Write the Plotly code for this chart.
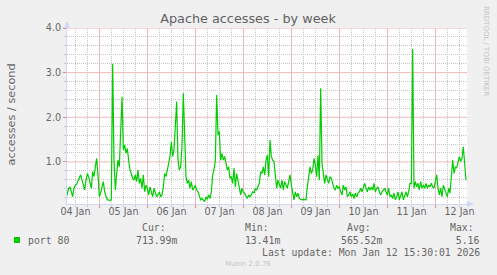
import pandas as pd
import plotly.graph_objects as go

# ---- data (accesses / second, 40-minute samples) ----
start_time = "2026-01-04 07:15"
sample_freq = "40min"
values = [
    0.18, 0.30, 0.41, 0.44, 0.33, 0.22, 0.41, 0.48, 0.50, 0.56, 0.63, 0.71, 0.59, 0.44, 0.37, 0.59,
    0.74, 0.67, 0.52, 0.41, 0.78, 0.67, 0.89, 1.08, 0.71, 0.22, 0.30, 0.44, 0.56, 0.33, 0.22, 0.15,
    0.15, 0.13, 0.16, 3.20, 1.04, 0.37, 0.74, 1.04, 0.89, 1.79, 2.46, 1.27, 1.38, 1.19, 1.30, 1.04,
    0.82, 0.74, 0.63, 0.59, 0.71, 0.56, 0.82, 0.52, 0.63, 0.41, 0.71, 0.33, 0.48, 0.41, 0.26, 0.44,
    0.33, 0.22, 0.41, 0.30, 0.22, 0.26, 0.33, 0.22, 0.26, 0.44, 0.74, 0.67, 0.82, 0.89, 1.12, 1.45,
    1.12, 1.27, 1.72, 2.35, 1.04, 0.82, 0.89, 1.34, 2.54, 1.34, 0.67, 0.52, 0.59, 0.41, 0.56, 0.37,
    0.41, 0.48, 0.37, 0.33, 0.26, 0.15, 0.18, 0.15, 0.11, 0.22, 0.16, 0.26, 0.18, 0.33, 0.71, 0.82,
    1.04, 2.50, 1.60, 1.68, 1.04, 1.19, 1.04, 1.12, 0.97, 0.82, 0.89, 0.63, 0.67, 0.52, 0.86, 0.44,
    0.74, 0.56, 0.37, 0.26, 0.41, 0.33, 0.30, 0.22, 0.18, 0.26, 0.22, 0.26, 0.33, 0.30, 0.41, 0.37,
    0.44, 0.52, 0.78, 0.74, 0.89, 0.71, 1.04,
    1.15, 0.67, 1.49, 1.12, 1.04, 1.01, 0.63, 0.41, 0.59, 0.52, 0.41, 0.59, 0.37, 0.56, 0.48, 0.41,
    0.56, 0.71, 0.48, 0.30, 0.15, 0.33, 0.22, 0.30, 0.18, 0.16, 0.15, 0.16, 0.15, 0.15, 0.44, 0.67,
    0.89, 0.74, 0.82, 1.08, 0.93, 0.67, 1.15, 0.59, 2.65, 0.97, 0.67, 0.52, 0.71, 0.63, 0.52, 0.67,
    0.63, 0.52, 0.41, 0.37, 0.48, 0.41, 0.44, 0.33, 0.26, 0.48, 0.37, 0.44, 0.22, 0.26, 0.33, 0.22,
    0.28, 0.18, 0.30, 0.22, 0.30, 0.33, 0.41, 0.33, 0.44, 0.52, 0.41, 0.33, 0.44, 0.37, 0.44, 0.37,
    0.52, 0.33, 0.41, 0.44, 0.33, 0.26, 0.33, 0.37, 0.41, 0.33, 0.26, 0.41, 0.22, 0.26, 0.18, 0.30,
    0.15, 0.22, 0.33, 0.15, 0.26, 0.33, 0.15, 0.26, 0.33, 0.22, 0.33, 0.52, 0.52, 3.53, 0.41, 0.56,
    0.44, 0.52, 0.37, 0.56, 0.41, 0.48, 0.41, 0.52, 0.41, 0.48, 0.44, 0.52, 0.44, 0.41, 0.59, 0.71,
    0.41, 0.26, 0.41, 0.22, 0.48, 0.41, 0.30, 0.22, 0.41, 0.30, 0.71, 1.04, 0.74, 0.89, 0.86, 1.04,
    1.12, 1.01, 1.08, 1.34, 1.04, 0.59,
]
series_name = "port 80"
stat_labels = ["Cur:", "Min:", "Avg:", "Max:"]
stat_values = ["713.99m", " 13.41m", "565.52m", "  5.16 "]
last_update = "Last update: Mon Jan 12 15:30:01 2026"
title_text = "Apache accesses - by week"
y_title = "accesses / second"
day_labels = ["04 Jan", "05 Jan", "06 Jan", "07 Jan", "08 Jan", "09 Jan", "10 Jan", "11 Jan", "12 Jan"]
y_major = [1.0, 2.0, 3.0, 4.0]
x_range = ["2026-01-04 07:45", "2026-01-12 15:45"]
y_range = [0.0568, 4.0]

times = pd.date_range(start_time, periods=len(values), freq=sample_freq)

# grid / label positions
midnights = list(pd.date_range("2026-01-05 00:00", periods=8, freq="D"))
noons = list(pd.date_range("2026-01-04 12:00", periods=len(day_labels), freq="D"))
minor_x = [t for t in pd.date_range("2026-01-04 00:00", "2026-01-13 00:00", freq="6h")
           if t.hour != 0]
minor_y = [round(i * 0.2, 1) for i in range(0, 21) if i % 5 != 0]

W, H = 497, 275
L, R, T, B = 67, 467, 28, 204

def px(x):
    return (x - L) / (R - L)

def py(y):
    return (B - y) / (B - T)

FONT = "DejaVu Sans"
MONO = "DejaVu Sans Mono"
TXT = "#666666"
AXIS = "#cfd6f8"
MGRID = "#efb8b8"
GRID = "#c4c4c4"
DASH = "1px,1px"

fig = go.Figure()
fig.add_trace(go.Scatter(x=times, y=values, mode="lines",
                         line=dict(color="#00cc00", width=1.2), hoverinfo="skip"))

fig.update_layout(
    width=W, height=H,
    margin=dict(l=L, r=W - R, t=T, b=H - B),
    paper_bgcolor="#f0f0f0", plot_bgcolor="#ffffff",
    showlegend=False,
    title=dict(text=title_text, x=248 / W, xanchor="center", y=1 - 19 / H, yanchor="middle",
               yref="container", font=dict(family=FONT, size=12.8, color="#606060")),
    font=dict(family=FONT, color=TXT),
)

fig.update_layout(
    xaxis=dict(
        type="date", range=x_range,
        tickmode="array", tickvals=midnights, showticklabels=False,
        showgrid=False,
        ticks="outside", ticklen=3, tickcolor="#e08888",
        showline=True, linecolor=AXIS, linewidth=1, zeroline=False,
        minor=dict(tickmode="array", tickvals=minor_x, showgrid=True, gridcolor=GRID,
                   griddash=DASH, ticks="outside", ticklen=2, tickcolor="#cccccc"),
        fixedrange=True,
    ),
    xaxis2=dict(
        type="date", range=x_range, overlaying="x", anchor="y", side="bottom",
        tickmode="array", tickvals=noons, ticktext=day_labels,
        showgrid=False, ticks="", showline=False, zeroline=False,
        tickfont=dict(family=FONT, size=9.6, color=TXT),
        fixedrange=True,
    ),
    yaxis=dict(
        range=y_range, tick0=0, dtick=1, tickformat=".1f",
        showgrid=False,
        ticks="outside", ticklen=3, tickcolor="#e08888",
        tickfont=dict(family=FONT, size=9.6, color=TXT),
        showline=True, linecolor=AXIS, linewidth=1, zeroline=False,
        minor=dict(tickmode="array", tickvals=minor_y, showgrid=True, gridcolor=GRID,
                   griddash=DASH, ticks="outside", ticklen=2, tickcolor="#cccccc"),
        fixedrange=True,
    ),
)
# invisible helper trace so the label axis is drawn
fig.add_trace(go.Scatter(x=[noons[0]], y=[None], xaxis="x2", yaxis="y", mode="lines",
                         hoverinfo="skip", showlegend=False))

shapes = []
# major grid lines (midnights / whole units), light red, above the grid but below the data
for m in midnights:
    shapes.append(dict(type="line", xref="x", yref="paper", x0=m, x1=m, y0=0, y1=1,
                       line=dict(color=MGRID, width=1), layer="between"))
for v in y_major:
    shapes.append(dict(type="line", xref="paper", yref="y", x0=0, x1=1, y0=v, y1=v,
                       line=dict(color=MGRID, width=1), layer="between"))
shapes.append(dict(type="path", xref="paper", yref="paper",
                   path=f"M {px(64)},{py(28)} L {px(70)},{py(28)} L {px(67)},{py(21)} Z",
                   fillcolor=AXIS, line=dict(width=0)))
shapes.append(dict(type="path", xref="paper", yref="paper",
                   path=f"M {px(467)},{py(201)} L {px(467)},{py(207)} L {px(474)},{py(204)} Z",
                   fillcolor=AXIS, line=dict(width=0)))
shapes.append(dict(type="rect", xref="paper", yref="paper",
                   x0=px(14), x1=px(20), y0=py(243), y1=py(237),
                   fillcolor="#00cc00", line=dict(width=0)))
fig.update_layout(shapes=shapes)

ann = []
def text(x, y, s, font=MONO, size=9.8, color=TXT, xanchor="left", angle=0):
    ann.append(dict(x=px(x), y=py(y), xref="paper", yref="paper", text=s, showarrow=False,
                    xanchor=xanchor, yanchor="middle", textangle=angle,
                    font=dict(family=font, size=size, color=color)))

text(11, 114.5, y_title, font=FONT, size=11.3, xanchor="center", angle=-90)
text(486, 51, "RRDTOOL / TOBI OETIKER", font=FONT, size=7, color="#c4c4c4",
     xanchor="center", angle=90)
text(26, 240, series_name)
col_x = [140, 242.5, 345, 447.5]
val_x = [134.3, 236.8, 339.3, 441.8]
for lx, vx, lab, val in zip(col_x, val_x, stat_labels, stat_values):
    text(lx, 228, lab)
    text(vx, 240, val.replace(" ", "&nbsp;"))
text(482, 252, last_update, xanchor="right")
text(248, 264, "Munin 2.0.76", font=FONT, size=7, color="#c4c4c4", xanchor="center")
fig.update_layout(annotations=ann)

fig.write_html("out.html", config=dict(displayModeBar=False))
